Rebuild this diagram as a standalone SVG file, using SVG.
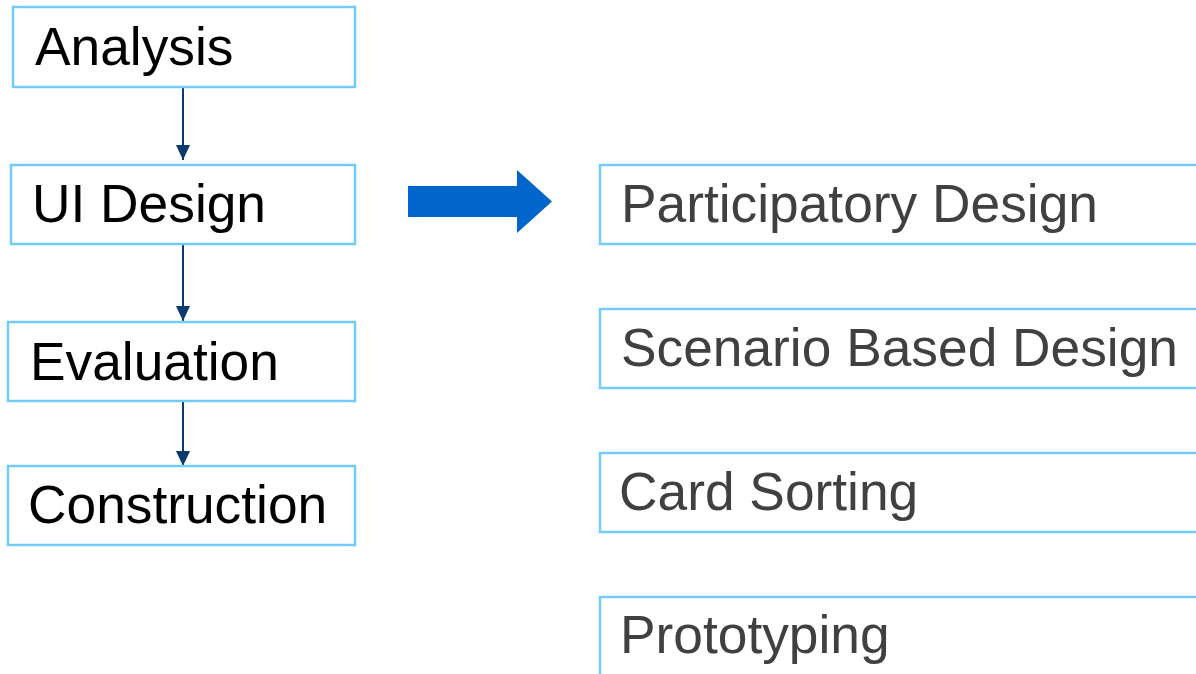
<svg xmlns="http://www.w3.org/2000/svg" width="1196" height="674" viewBox="0 0 1196 674">
<style>
.box{fill:#fff;stroke:#71CDF8;stroke-width:2.5}
.lt{font-family:"Liberation Sans",Arial,sans-serif;font-size:53.3px;fill:#000}
.rt{font-family:"Liberation Sans",Arial,sans-serif;font-size:53.3px;fill:#404040}
.con{stroke:#0B3A6E;stroke-width:2;fill:none}
</style>
<defs>
<marker id="ah" markerWidth="16" markerHeight="14" refX="15" refY="7" orient="auto" markerUnits="userSpaceOnUse">
<path d="M0,0 L15,7 L0,14 Z" fill="#0B3A6E"/>
</marker>
</defs>
<rect width="1196" height="674" fill="#fff"/>
<g id="connectors">
<line class="con" x1="183" y1="87" x2="183" y2="160" marker-end="url(#ah)"/>
<line class="con" x1="183" y1="245" x2="183" y2="321" marker-end="url(#ah)"/>
<line class="con" x1="183" y1="402" x2="183" y2="466" marker-end="url(#ah)"/>
<path id="bigArrow" d="M408,186 L517,186 L517,170 L552,201.5 L517,233 L517,217 L408,217 Z" fill="#0066CC"/>
</g>
<g id="analysis"><rect class="box" x="13" y="7" width="342" height="80"/><text class="lt" x="35" y="65">Analysis</text></g>
<g id="uidesign"><rect class="box" x="11" y="165" width="344" height="79"/><text class="lt" x="32" y="222">UI Design</text></g>
<g id="evaluation"><rect class="box" x="8" y="322" width="347" height="79"/><text class="lt" x="30" y="380">Evaluation</text></g>
<g id="construction"><rect class="box" x="8" y="466" width="347" height="79"/><text class="lt" x="28" y="523">Construction</text></g>
<g id="participatory"><rect class="box" x="600" y="165" width="610" height="79"/><text class="rt" x="621" y="222">Participatory Design</text></g>
<g id="scenario"><rect class="box" x="600" y="309" width="610" height="79"/><text class="rt" x="621" y="366">Scenario Based Design</text></g>
<g id="cardsorting"><rect class="box" x="600" y="453" width="610" height="79"/><text class="rt" x="619" y="510">Card Sorting</text></g>
<g id="prototyping"><rect class="box" x="600" y="597" width="610" height="100"/><text class="rt" x="620" y="653">Prototyping</text></g>
</svg>
